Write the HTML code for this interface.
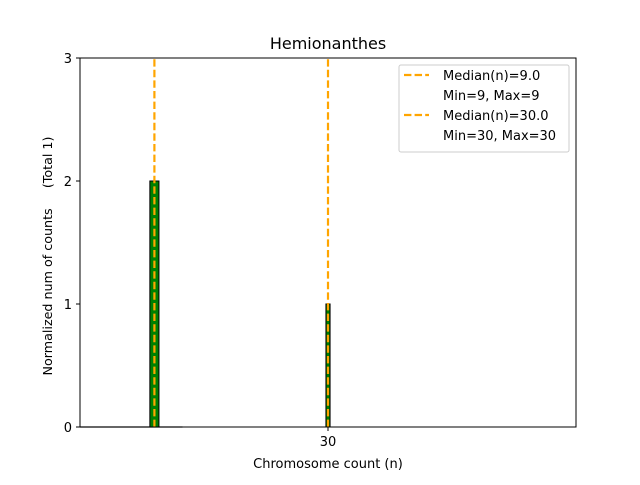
<!DOCTYPE html>
<html><head><meta charset="utf-8"><style>
body{margin:0;background:#fff}
text{font-family:"DejaVu Sans","Liberation Sans",sans-serif;fill:#000}
</style></head><body>
<svg id="chart" width="640" height="480" xmlns="http://www.w3.org/2000/svg">
<rect width="640" height="480" fill="#fff"/>
<text x="328" y="49" font-size="16" text-anchor="middle">Hemionanthes</text>
<g id="marks"></g>
<rect x="80" y="58" width="496" height="369" fill="none" stroke="#000" stroke-width="1"/>
<g id="axes"></g>
<text x="328" y="468" font-size="13" text-anchor="middle">Chromosome count (n)</text>
<text transform="translate(52,256) rotate(-90)" font-size="12.7" text-anchor="middle" style="white-space:pre">Normalized num of counts     (Total 1)</text>
<g>
<rect x="399" y="65" width="170" height="87" fill="#fff" stroke="#ccc" rx="2"/>
<line x1="404" y1="75" x2="429" y2="75" stroke="#FFA500" stroke-width="2.2" stroke-dasharray="7.4,3.2"/>
<text x="443" y="80" font-size="13">Median(n)=9.0</text>
<text x="443" y="100" font-size="13">Min=9, Max=9</text>
<line x1="404" y1="115" x2="429" y2="115" stroke="#FFA500" stroke-width="2.2" stroke-dasharray="7.4,3.2"/>
<text x="443" y="120" font-size="13">Median(n)=30.0</text>
<text x="443" y="140" font-size="13">Min=30, Max=30</text>
</g>
</svg>
<script>
const categories=[9,30];
const counts=[2,1];
const binWidths=[1.1,0.5];
const medians=[9,30];
const yTicks=[0,1,2,3];
const xTicks=[30];
const NS="http://www.w3.org/2000/svg";
const X=v=>80+v*(496/60);
const Y=v=>427-v*123;
function mk(t,a,p){const e=document.createElementNS(NS,t);for(const k in a)e.setAttribute(k,a[k]);p.appendChild(e);return e;}
const marks=document.getElementById('marks'),axes=document.getElementById('axes');
const base=mk('line',{x1:X(0),x2:X(12.4),y1:Y(0),y2:Y(0),stroke:'#999','stroke-width':1.5},marks);


categories.forEach((c,i)=>{
 const w=binWidths[i]*496/60;
 const r=mk('rect',{x:X(c)-w/2,y:Y(counts[i]),width:w,height:Y(0)-Y(counts[i]),fill:'#008000',stroke:'#000','stroke-width':1},marks);
 
 
});
medians.forEach(m=>{
 const l=mk('line',{x1:X(m),x2:X(m),y1:Y(0),y2:Y(3),stroke:'#FFA500','stroke-width':2.2,'stroke-dasharray':'7.4,3.2'},marks);
 
 
});
yTicks.forEach(t=>{
 const tk=mk('line',{x1:76,x2:80,y1:Y(t),y2:Y(t),stroke:'#000'},axes);
 
 
 const tx=mk('text',{x:72,y:Y(t)+5,'font-size':13,'text-anchor':'end'},axes);
 tx.textContent=t;
 
 
});
xTicks.forEach(t=>{
 const tk=mk('line',{x1:X(t),x2:X(t),y1:427,y2:431,stroke:'#000'},axes);
 
 
 const tx=mk('text',{x:X(t),y:446,'font-size':13,'text-anchor':'middle'},axes);
 tx.textContent=t;
 
 
});
</script>
</body></html>
